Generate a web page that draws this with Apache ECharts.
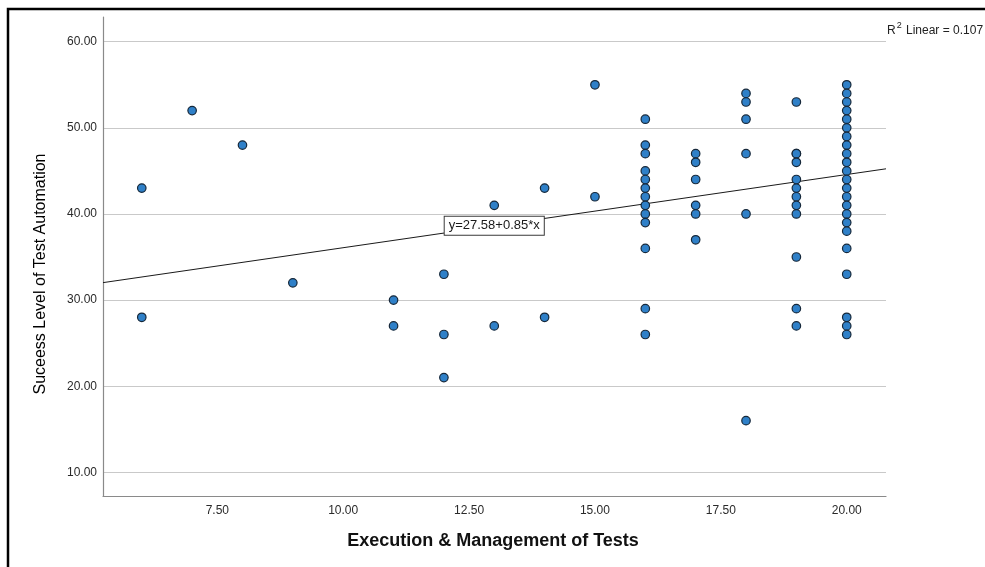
<!DOCTYPE html>
<html>
<head>
<meta charset="utf-8">
<script src="https://cdn.jsdelivr.net/npm/echarts@6/dist/echarts.min.js"></script>
<style>
  html, body { margin: 0; padding: 0; background: #fff; }
  #chart { width: 985px; height: 567px; }
</style>
</head>
<body>
<div id="chart"></div>
<script>
// Execution & Management of Tests score levels (x) and the
// success scores observed at each level (y).
const execLevels = [6, 7, 8, 9, 11, 12, 13, 14, 15, 16, 17, 18, 19, 20];
const successByLevel = [
  [43, 28],
  [52],
  [48],
  [32],
  [30, 27],
  [33, 26, 21],
  [41, 27],
  [43, 28],
  [55, 42],
  [51, 48, 47, 45, 44, 43, 42, 41, 40, 39, 36, 29, 26],
  [47, 46, 44, 41, 40, 37],
  [54, 53, 51, 47, 40, 16],
  [53, 47, 47, 46, 44, 43, 42, 41, 40, 35, 29, 27],
  [55, 54, 53, 52, 51, 50, 49, 48, 47, 46, 45, 44, 43, 42, 41, 40, 39, 38, 36, 33, 28, 27, 26]
];

// Axis tick labels
const xTicks = [7.5, 10, 12.5, 15, 17.5, 20];
const yTicks = [10, 20, 30, 40, 50, 60];

// Fitted linear model
const fitIntercept = 27.58;
const fitSlope = 0.85;
const fitR2 = 0.107;
const fitLabelAtX = 13;

const xMin = 5.23, xMax = 20.78;
const yMin = 7.25, yMax = 62.87;

const points = [];
execLevels.forEach((x, i) => {
  successByLevel[i].forEach(y => points.push([x, y]));
});

const fitY = x => fitIntercept + fitSlope * x;
const fitLine = [[xMin, fitY(xMin)], [xMax, fitY(xMax)]];

const FONT = '"Liberation Sans", Arial, sans-serif';

const chart = echarts.init(document.getElementById('chart'), null, { renderer: 'canvas' });

chart.setOption({
  animation: false,
  backgroundColor: '#ffffff',
  grid: { left: 103, right: 99, top: 17, bottom: 71, containLabel: false },
  xAxis: {
    type: 'value',
    min: xMin,
    max: xMax,
    axisLine: { show: true, lineStyle: { color: '#8a8a8a', width: 1.2 } },
    axisTick: { show: false, customValues: xTicks },
    axisLabel: {
      customValues: xTicks,
      formatter: v => v.toFixed(2),
      color: '#2a2a2a',
      fontFamily: FONT,
      fontSize: 12,
      margin: 9
    },
    splitLine: { show: false }
  },
  yAxis: {
    type: 'value',
    min: yMin,
    max: yMax,
    axisLine: { show: true, lineStyle: { color: '#8a8a8a', width: 1.2 } },
    axisTick: { show: false, customValues: yTicks },
    axisLabel: {
      customValues: yTicks,
      formatter: v => v.toFixed(2),
      color: '#2a2a2a',
      fontFamily: FONT,
      fontSize: 12,
      margin: 6
    },
    splitLine: { show: true, lineStyle: { color: '#c9c9c9', width: 1.2 } }
  },
  series: [
    {
      type: 'line',
      data: fitLine,
      symbol: 'none',
      lineStyle: { color: '#1a1a1a', width: 1 },
      z: 3,
      markPoint: {
        symbol: 'rect',
        symbolSize: 1,
        itemStyle: { color: 'rgba(0,0,0,0)' },
        label: {
          show: true,
          position: 'inside',
          formatter: 'y=' + fitIntercept.toFixed(2) + '+' + fitSlope.toFixed(2) + '*x',
          color: '#1a1a1a',
          fontFamily: FONT,
          fontSize: 13,
          backgroundColor: '#ffffff',
          borderColor: '#3a3a3a',
          borderWidth: 1,
          padding: [3, 4, 2, 4]
        },
        data: [{ coord: [fitLabelAtX, fitY(fitLabelAtX)] }]
      }
    },
    {
      type: 'scatter',
      data: points,
      symbol: 'circle',
      symbolSize: 8.5,
      itemStyle: { color: '#2f80c8', borderColor: '#16283a', borderWidth: 1.2, opacity: 1 },
      z: 4
    }
  ],
  graphic: [
    {
      type: 'rect',
      shape: { x: 8, y: 9, width: 1100, height: 700 },
      style: { fill: 'none', stroke: '#000', lineWidth: 2.5 },
      silent: true
    },
    {
      type: 'text',
      x: 41,
      y: 274,
      rotation: Math.PI / 2,
      style: {
        text: 'Suceess Level of Test Automation',
        font: '16px ' + FONT,
        fill: '#000',
        align: 'center',
        verticalAlign: 'middle'
      }
    },
    {
      type: 'text',
      x: 493,
      y: 541,
      style: {
        text: 'Execution & Management of Tests',
        font: 'bold 18px ' + FONT,
        fill: '#111',
        align: 'center',
        verticalAlign: 'middle'
      }
    },
    {
      type: 'text',
      x: 887,
      y: 29,
      style: {
        text: '{b|R}{s|2}{b| Linear = ' + fitR2.toFixed(3) + '}',
        rich: {
          b: { fontFamily: FONT, fontSize: 12, fill: '#222', color: '#222', verticalAlign: 'bottom' },
          s: { fontFamily: FONT, fontSize: 9, fill: '#222', color: '#222', padding: [0, 1, 6, 1] }
        },
        verticalAlign: 'middle'
      }
    }
  ]
});
</script>
</body>
</html>
